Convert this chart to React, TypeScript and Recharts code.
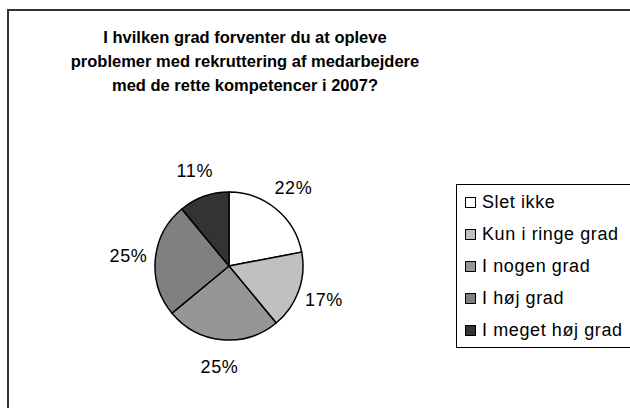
import * as React from 'react'
import { PieChart, Pie, Cell, Legend } from 'recharts'

const categories = ['Slet ikke', 'Kun i ringe grad', 'I nogen grad', 'I høj grad', 'I meget høj grad']
const shares = [22, 17, 25, 25, 11]
const colors = ['#FFFFFF', '#C0C0C0', '#969696', '#808080', '#333333']
const titleLines = [
    'I hvilken grad forventer du at opleve',
    'problemer med rekruttering af medarbejdere',
    'med de rette kompetencer i 2007?',
]

const data = categories.map((name, i) => ({ name, value: shares[i] }))

const font = '"Liberation Sans", Arial, sans-serif'
const RAD = Math.PI / 180

const renderLabel = (props: any) => {
    const { cx, cy, midAngle, outerRadius, value } = props
    const r = outerRadius + 27
    const x = cx + r * Math.cos(-midAngle * RAD)
    const y = cy + r * Math.sin(-midAngle * RAD)
    return (
        <text x={x} y={y} textAnchor="middle" dominantBaseline="central"
            fill="#000" fontSize={18} letterSpacing={0.6} fontFamily={font}>
            {value}%
        </text>
    )
}

const renderLegend = () => (
    <div style={{ border: '1px solid #000', background: '#fff', padding: '1px 0 1px 8px', fontFamily: font }}>
        {categories.map((name, i) => (
            <div key={name} style={{ display: 'flex', alignItems: 'center', height: 32 }}>
                <span style={{
                    display: 'inline-block', width: 9, height: 9, border: '1px solid #000',
                    background: colors[i], marginRight: 6,
                }} />
                <span style={{ fontSize: 18, letterSpacing: 0.6, color: '#000', whiteSpace: 'nowrap' }}>{name}</span>
            </div>
        ))}
    </div>
)

export default function App() {
    return (
        <div style={{ position: 'absolute', left: 0, top: 0, width: 630, height: 408, overflow: 'hidden', background: '#fff' }}>
            <div style={{
                position: 'absolute', left: 7, top: 9, width: 640, height: 420,
                border: '2px solid #333', boxSizing: 'border-box',
            }} />
            <div style={{
                position: 'absolute', left: 0, top: 25, width: 490, textAlign: 'center',
                fontFamily: font, fontWeight: 'bold', fontSize: 16.5, lineHeight: '24px', color: '#000',
            }}>
                {titleLines.map(l => <div key={l}>{l}</div>)}
            </div>
            <div style={{ position: 'absolute', left: 0, top: 0 }}>
                <PieChart width={630} height={408} margin={{ top: 0, right: 0, bottom: 0, left: 0 }}>
                    <Pie data={data} dataKey="value" nameKey="name" cx={229} cy={266}
                        outerRadius={74} startAngle={90} endAngle={-270}
                        stroke="#000" strokeWidth={1.5} label={renderLabel} labelLine={false}
                        isAnimationActive={false}>
                        {data.map((d, i) => <Cell key={d.name} fill={colors[i]} />)}
                    </Pie>
                    <Legend content={renderLegend}
                        wrapperStyle={{ position: 'absolute', left: 456, top: 184, width: 200 }} />
                </PieChart>
            </div>
        </div>
    )
}
